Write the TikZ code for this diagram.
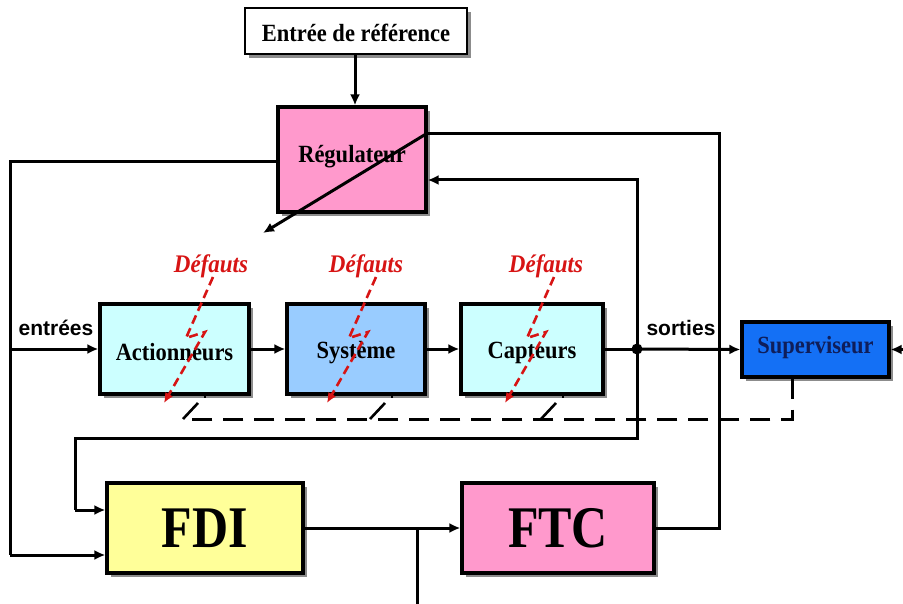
\documentclass[tikz,border=0pt]{standalone}
\usepackage{fontspec}
\setmainfont{Liberation Serif}
\newfontfamily\sansb{Liberation Sans}
\usetikzlibrary{arrows.meta,shadows}
\definecolor{pinkbox}{RGB}{255,153,204}
\definecolor{cyanbox}{RGB}{204,255,255}
\definecolor{bluebox}{RGB}{153,204,255}
\definecolor{supblue}{RGB}{20,112,245}
\definecolor{yellowbox}{RGB}{255,255,153}
\definecolor{faultred}{RGB}{215,20,20}
\definecolor{navytext}{RGB}{15,30,90}
\newcommand\mystretch[2]{\scalebox{1}[#1]{#2}}
\begin{document}
\begin{tikzpicture}[x=1pt,y=-1pt,
  box/.style={draw=black, line width=3.2pt, inner sep=0pt,
    drop shadow={shadow xshift=4pt,shadow yshift=-4pt,fill=black!45,opacity=1},
    font=\fontsize{22.5}{24}\selectfont\bfseries, text height=20pt, text depth=0pt},
  bigbox/.style={box, font=\fontsize{50}{52}\selectfont\bfseries, text height=38pt, text depth=0pt},
  conn/.style={line width=3pt, draw=black},
  arr/.style={conn, -{Latex[length=11pt,width=10pt]}},
  dashline/.style={line width=3pt, draw=black, dash pattern=on 20pt off 11pt},
  fault/.style={line width=2.6pt, draw=faultred, dash pattern=on 9pt off 5pt, -{Latex[length=10pt,width=9pt]}},
  faulttext/.style={text=faultred, font=\fontsize{23}{24}\selectfont\bfseries\itshape, inner sep=0pt},
  sanslabel/.style={font=\fontsize{21}{23}\selectfont\sansb\bfseries, inner sep=0pt}
]
\useasboundingbox (0,0) rectangle (903,604);

% boxes
\node[box, fill=white, line width=2.8pt, minimum width=222pt, minimum height=46pt, text height=22pt] (ref) at (356,31) {\mystretch{1.1}{Entrée de référence}};
\node[box, fill=pinkbox, minimum width=148pt, minimum height=105pt, text height=7pt] (reg) at (352,159.5) {\mystretch{1.1}{Régulateur}};
\node[box, fill=cyanbox, minimum width=149pt, minimum height=90pt, text height=22pt] (act) at (174.5,349) {\mystretch{1.1}{Actionneurs}};
\node[box, fill=bluebox, minimum width=138pt, minimum height=90pt] (sys) at (356,349) {\mystretch{1.1}{Système}};
\node[box, fill=cyanbox, minimum width=142pt, minimum height=90pt] (cap) at (532,349) {\mystretch{1.1}{Capteurs}};
\node[box, fill=supblue, text=navytext, minimum width=147pt, minimum height=55pt, text height=7pt] (sup) at (815.5,349.5) {\mystretch{1.1}{Superviseur}};
\node[bigbox, fill=yellowbox, minimum width=196pt, minimum height=90pt] (fdi) at (205,528) {\mystretch{1.18}{FDI}};
\node[bigbox, fill=pinkbox, minimum width=192pt, minimum height=90pt] (ftc) at (558,528) {\mystretch{1.18}{FTC}};

% labels
\node[sanslabel, anchor=base] (lin) at (56,335) {entrées};
\node[sanslabel, anchor=base] (lout) at (681,335) {sorties};
\node[faulttext, anchor=base] (d1) at (211,273) {\mystretch{1.1}{Défauts}};
\node[faulttext, anchor=base] (d2) at (366,273) {\mystretch{1.1}{Défauts}};
\node[faulttext, anchor=base] (d3) at (546,273) {\mystretch{1.1}{Défauts}};

% coordinates
\coordinate (L1) at (10,162);
\coordinate (L2) at (10,555);
\coordinate (Lin) at (10,349);
\coordinate (J) at (637,349);
\coordinate (F1) at (637,180);
\coordinate (G1) at (637,438);
\coordinate (G2) at (75,438);
\coordinate (G3) at (75,510);
\coordinate (R1) at (426,134);
\coordinate (T1) at (719,134);
\coordinate (T2) at (719,528);
\coordinate (D1) at (263,233);
\coordinate (B0) at (417,528);
\coordinate (B1) at (417,604);
\coordinate (E1) at (903,349.5);
\coordinate (S1) at (792,419);
\coordinate (S2) at (182,419);

% connectors
\draw[arr] (ref.south -| 355,0) -- (reg.north -| 355,0);
\draw[conn] (reg.west |- L1) -- (L1) -- (L2);
\draw[arr] (L2) -- (fdi.west |- L2);
\draw[arr] (Lin) -- (act.west);
\draw[arr] (act.east) -- (sys.west);
\draw[arr] (sys.east) -- (cap.west);
\draw[conn] (cap.east) -- (J);
\draw[arr] (J) -- (sup.west);
\draw[arr] (J) -- (F1) -- (reg.east |- F1);
\draw[conn] (J) -- (G1) -- (G2) -- (G3);
\draw[arr] (G3) -- (fdi.west |- G3);
\draw[conn] (R1) -- (T1) -- (T2) -- (ftc.east |- T2);
\draw[arr] (fdi.east |- B0) -- (ftc.west |- B0);
\draw[conn] (B0) -- (B1);
\draw[arr] (R1) -- (D1);
\draw[arr] (E1) -- (sup.east);
\fill (J) circle (5.5pt);

% supervisor dashed switches
\draw[dashline] (sup.south -| S1) -- (S1) -- (S2);
\foreach \xs in {205,392,563}{
  \draw[conn, line width=2.6pt] (\xs,393) -- (\xs,398);
  \draw[conn, line width=2.6pt] (\xs-7,403) -- (\xs-22,419);
}

% fault lightning arrows
\foreach \dx in {0,163,341}{
  \draw[fault] (213+\dx,277) -- (186+\dx,338) -- (205+\dx,332) -- (164+\dx,403);
}
\end{tikzpicture}
\end{document}
